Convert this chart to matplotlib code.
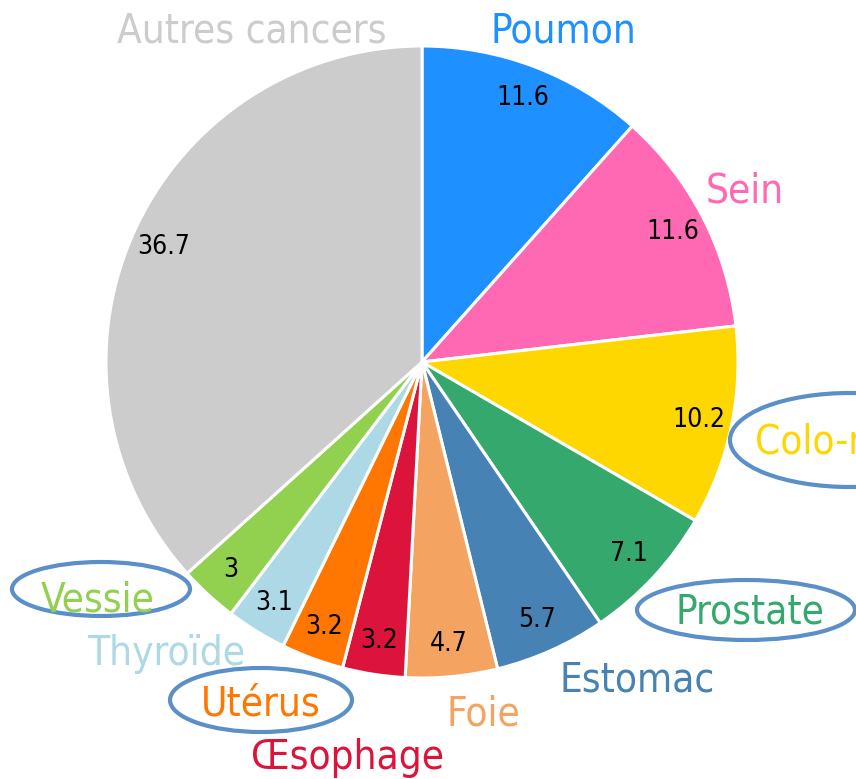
import matplotlib.pyplot as plt
from matplotlib.patches import Ellipse

# Répartition des cancers (%)
categories = ["Poumon", "Sein", "Colo-rectum", "Prostate", "Estomac", "Foie",
              "Œsophage", "Utérus", "Thyroïde", "Vessie", "Autres cancers"]
values = [11.6, 11.6, 10.2, 7.1, 5.7, 4.7, 3.2, 3.2, 3.1, 3, 36.7]
colors = ["#1E90FF", "#FF69B4", "#FFD700", "#35A86E", "#4682B4", "#F4A460",
          "#DC143C", "#FF7700", "#ADD8E6", "#92D050", "#CCCCCC"]

# labels entourés
circled = ["Colo-rectum", "Prostate", "Utérus", "Vessie"]

W, H = 856, 779

# position des étiquettes (x, y en pixels depuis le haut) et alignement
label_pos = {
    "Poumon": (563, 31, "center"),
    "Sein": (745, 191, "center"),
    "Colo-rectum": (755, 442, "left"),
    "Prostate": (750, 613, "center"),
    "Estomac": (637, 681, "center"),
    "Foie": (483, 714, "center"),
    "Œsophage": (348, 758, "center"),
    "Utérus": (261, 704, "center"),
    "Thyroïde": (166, 654, "center"),
    "Vessie": (98, 601, "center"),
    "Autres cancers": (252, 31, "center"),
}
# ellipses: centre x, centre y, largeur, hauteur
ellipses = {
    "Colo-rectum": (850, 440, 240, 94),
    "Prostate": (746, 610, 218, 60),
    "Utérus": (261, 700, 182, 64),
    "Vessie": (101, 589, 178, 54),
}

plt.rcParams['font.family'] = ['DejaVu Sans']

fig = plt.figure(figsize=(W / 100, H / 100), dpi=100)
ax = fig.add_axes([0, 0, 1, 1])

total = sum(values)

def fmt(pct):
    return "{:g}".format(round(pct * total / 100, 1))

wedges, texts, autotexts = ax.pie(
    values, colors=colors, startangle=90, counterclock=False,
    center=(422, H - 362), radius=316, frame=True,
    autopct=fmt, pctdistance=0.895,
    wedgeprops=dict(edgecolor="white", linewidth=2.2),
    textprops=dict(fontsize=19, color="black", fontstretch="condensed"))

for cat, col in zip(categories, colors):
    x, y, ha = label_pos[cat]
    ax.text(x, H - y, cat, color=col, fontsize=29, ha=ha, va="center",
            fontstretch="condensed")

for cat in circled:
    cx, cy, w, h = ellipses[cat]
    ax.add_patch(Ellipse((cx, H - cy), w, h, fill=False,
                         edgecolor="#5B8FC7", linewidth=3))

ax.set_xlim(0, W)
ax.set_ylim(0, H)
ax.axis("off")

fig.savefig("out.png", dpi=100)
